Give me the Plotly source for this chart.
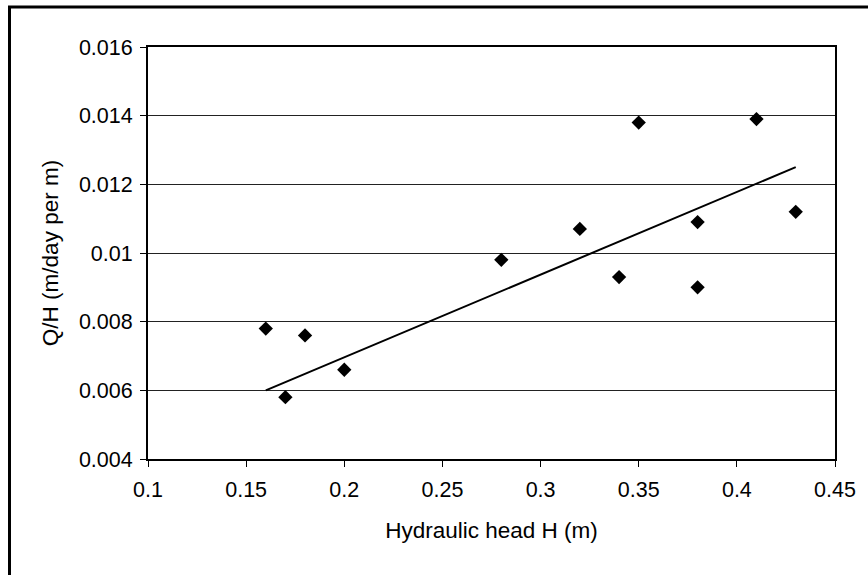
import plotly.graph_objects as go

# Measured hydraulic head and specific discharge
head_m = [0.16, 0.17, 0.18, 0.20, 0.28, 0.32, 0.34, 0.35, 0.38, 0.38, 0.41, 0.43]
q_over_h = [0.0078, 0.0058, 0.0076, 0.0066, 0.0098, 0.0107, 0.0093, 0.0138,
            0.0109, 0.0090, 0.0139, 0.0112]

# Straight trend line endpoints
trend_x = [0.16, 0.43]
trend_y = [0.0060, 0.0125]

# Axis ticks
x_ticks = [0.1, 0.15, 0.2, 0.25, 0.3, 0.35, 0.4, 0.45]
x_tick_text = ["0.1", "0.15", "0.2", "0.25", "0.3", "0.35", "0.4", "0.45"]
y_ticks = [0.004, 0.006, 0.008, 0.010, 0.012, 0.014, 0.016]
y_tick_text = ["0.004", "0.006", "0.008", "0.01", "0.012", "0.014", "0.016"]

FONT = "Liberation Sans, Arial, sans-serif"

fig = go.Figure()

fig.add_trace(go.Scatter(
    x=trend_x, y=trend_y, mode="lines",
    line=dict(color="black", width=2),
    hoverinfo="skip", showlegend=False,
))

fig.add_trace(go.Scatter(
    x=head_m, y=q_over_h, mode="markers",
    marker=dict(symbol="diamond", size=11, color="black",
                line=dict(width=0)),
    showlegend=False,
))

axis_common = dict(
    showline=True, linecolor="black", linewidth=2, mirror=True,
    ticks="outside", ticklen=6, tickwidth=1, tickcolor="black",
    tickfont=dict(family=FONT, size=21.5, color="black"),
    zeroline=False,
)

fig.update_xaxes(
    range=[0.1, 0.45], tickvals=x_ticks, ticktext=x_tick_text,
    showgrid=False, ticklabelstandoff=4,
    title=dict(text="Hydraulic head H (m)", standoff=21,
               font=dict(family=FONT, size=22.5, color="black")),
    **axis_common,
)
fig.update_yaxes(
    range=[0.004, 0.016], tickvals=y_ticks, ticktext=y_tick_text,
    showgrid=True, gridcolor="#222222", gridwidth=1, ticklabelstandoff=3,
    title=dict(text="Q/H (m/day per m)", standoff=14,
               font=dict(family=FONT, size=22.5, color="black")),
    **axis_common,
)

# Outer chart frame
fig.add_shape(
    type="rect", xref="paper", yref="paper",
    x0=(9.5 - 148) / 687, x1=1 + (880 - 835) / 687,
    y0=-(600 - 459) / 412, y1=1 + (47 - 7) / 412,
    line=dict(color="black", width=3), fillcolor="rgba(0,0,0,0)",
    layer="below",
)

fig.update_layout(
    width=868, height=575,
    margin=dict(l=148, r=33, t=47, b=116),
    paper_bgcolor="white", plot_bgcolor="white",
    font=dict(family=FONT, color="black"),
)

fig.write_html("out.html")
